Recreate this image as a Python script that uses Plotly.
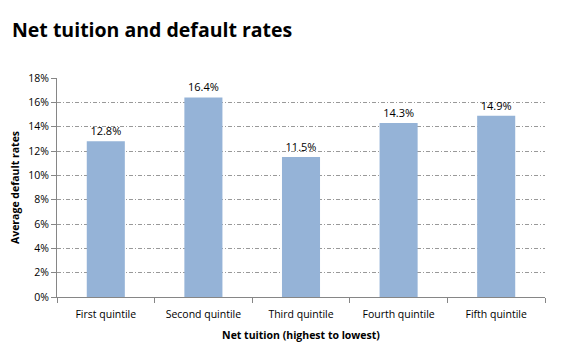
import plotly.graph_objects as go

categories = ["First quintile", "Second quintile", "Third quintile", "Fourth quintile", "Fifth quintile"]
default_rates = [0.128, 0.164, 0.115, 0.143, 0.149]
y_ticks = [0, 0.02, 0.04, 0.06, 0.08, 0.10, 0.12, 0.14, 0.16, 0.18]

font_family = "Open Sans, Noto Sans, sans-serif"

fig = go.Figure(go.Bar(
    x=categories,
    y=default_rates,
    marker=dict(color="#95B3D7", line=dict(width=0)),
    width=0.39,
    text=[f"{v*100:.1f}%" for v in default_rates],
    textposition="outside",
    textfont=dict(size=11, color="#000000", family=font_family),
    cliponaxis=False,
))

fig.update_layout(
    width=580, height=350,
    margin=dict(l=57, r=35, t=78, b=53),
    paper_bgcolor="white", plot_bgcolor="white",
    showlegend=False,
    font=dict(family=font_family, color="#000000"),
    title=dict(
        text="<b>Net tuition and default rates</b>",
        x=12/580, xanchor="left", y=1-30/350, yanchor="middle",
        font=dict(size=19.5, color="#000000", family=font_family),
    ),
    xaxis=dict(
        automargin=False,
        showline=True, linecolor="#868686", linewidth=1,
        ticks="outside", tickson="boundaries", ticklen=5, tickcolor="#868686",
        tickfont=dict(size=10.5),
        ticklabelstandoff=7,
        title=dict(text="<b>Net tuition (highest to lowest)</b>", font=dict(size=10.5), standoff=12),
        showgrid=False,
    ),
    yaxis=dict(
        automargin=False,
        range=[0, 0.18], tickvals=y_ticks, tickformat=".0%",
        showline=True, linecolor="#868686", linewidth=1,
        ticks="outside", ticklen=5, tickcolor="#868686",
        tickfont=dict(size=10.5),
        showgrid=True, gridcolor="#999999", griddash="4px,2px,1px,2px", gridwidth=1,
        zeroline=False,
        title=dict(text="<b>Average default rates</b>", font=dict(size=10.5), standoff=6),
    ),
    bargap=0.61,
)

fig.write_html("out.html")
